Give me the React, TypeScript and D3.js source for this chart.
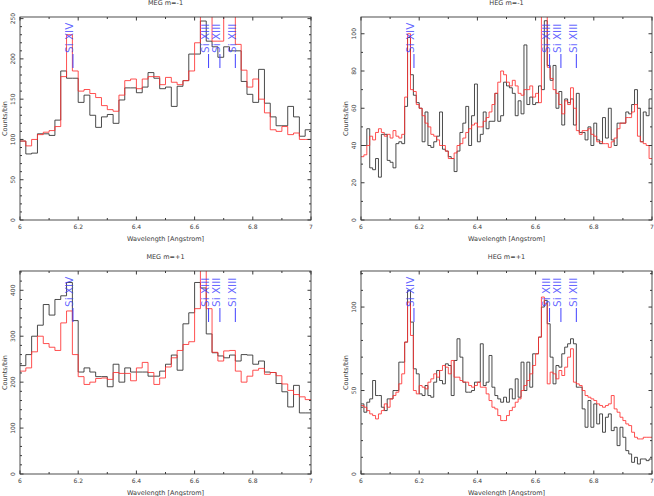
import React, { useEffect, useRef } from "react";
import * as d3 from "d3";

// wavelength grid of the spectra
const waveMin = 6.0;
const waveMax = 7.0;
const megBinWidth = 0.02;
const hegBinWidth = 0.01;
const xTickValues = [6, 6.2, 6.4, 6.6, 6.8, 7];
const xMinorTicks = [6.1, 6.3, 6.5, 6.7, 6.9];

// counts per bin (black = data, red = model)
const megMinus1Data = [
  98, 82, 83, 107, 107, 105, 124, 185, 176, 176,
  146, 155, 130, 115, 128, 131, 120, 149, 164, 164,
  158, 165, 183, 176, 163, 165, 141, 166, 173, 206,
  206, 247, 222, 215, 202, 215, 210, 210, 172, 156,
  146, 187, 145, 128, 117, 117, 141, 128, 104, 112,
];
const megMinus1Model = [
  98, 92, 100, 106, 109, 111, 116, 178, 230, 185,
  160, 162, 157, 152, 142, 137, 135, 155, 173, 175,
  163, 175, 178, 178, 168, 177, 171, 168, 173, 185,
  220, 290, 290, 222, 222, 280, 280, 218, 186, 165,
  175, 150, 133, 112, 110, 116, 106, 108, 100, 100,
];
const hegMinus1Data = [
  40, 40, 49, 28, 27, 33, 23, 46, 46, 32,
  31, 28, 41, 42, 41, 61, 98, 78, 67, 63,
  60, 42, 58, 40, 39, 42, 45, 58, 38, 37,
  34, 33, 26, 37, 47, 52, 61, 40, 56, 73,
  42, 46, 58, 49, 53, 53, 68, 53, 56, 74,
  72, 71, 68, 56, 64, 57, 94, 62, 66, 62,
  63, 72, 70, 107, 83, 75, 83, 60, 69, 51,
  65, 63, 65, 51, 68, 47, 47, 43, 50, 40,
  52, 43, 41, 55, 44, 60, 43, 40, 52, 52,
  52, 58, 57, 62, 70, 60, 42, 58, 56, 65,
];
const hegMinus1Model = [
  34, 35, 40, 45, 43, 47, 49, 47, 45, 46,
  44, 48, 45, 44, 46, 66, 100, 70, 69, 62,
  60, 56, 52, 50, 46, 45, 43, 40, 40, 37,
  33, 33, 36, 40, 41, 44, 47, 49, 51, 52,
  50, 50, 53, 55, 58, 62, 68, 74, 80, 78,
  74, 72, 75, 72, 68, 67, 70, 70, 72, 66,
  68, 63, 125, 125, 82, 76, 70, 68, 62, 57,
  64, 62, 71, 60, 48, 46, 48, 48, 49, 46,
  45, 42, 42, 41, 41, 39, 42, 44, 49, 52,
  52, 55, 55, 58, 62, 45, 42, 41, 40, 33,
];
const megPlus1Data = [
  236, 260, 300, 324, 369, 346, 380, 388, 417, 334,
  222, 231, 222, 212, 212, 190, 239, 200, 231, 222,
  222, 222, 213, 213, 224, 239, 259, 226, 327, 351,
  417, 405, 305, 264, 257, 253, 259, 246, 260, 259,
  239, 246, 222, 221, 197, 179, 146, 193, 133, 133,
];
const megPlus1Model = [
  224, 231, 266, 300, 284, 276, 269, 329, 355, 260,
  212, 195, 200, 208, 209, 206, 221, 219, 219, 203,
  231, 243, 221, 195, 209, 233, 253, 269, 282, 288,
  360, 480, 360, 265, 246, 268, 269, 224, 200, 213,
  226, 230, 217, 221, 214, 196, 182, 173, 168, 162,
];
const hegPlus1Data = [
  42, 37, 43, 45, 56, 47, 47, 40, 38, 45,
  45, 50, 50, 67, 67, 79, 110, 91, 63, 60,
  48, 47, 53, 47, 46, 55, 62, 56, 54, 66,
  65, 47, 68, 81, 70, 55, 49, 49, 50, 55,
  55, 78, 53, 55, 71, 52, 47, 45, 43, 46,
  43, 51, 45, 57, 46, 67, 50, 67, 52, 72,
  72, 82, 100, 104, 90, 70, 54, 65, 64, 72,
  76, 78, 81, 78, 52, 52, 39, 28, 44, 28,
  42, 30, 36, 25, 34, 36, 26, 28, 17, 28,
  22, 14, 12, 7, 10, 6, 9, 9, 8, 9,
];
const hegPlus1Model = [
  41, 40, 38, 36, 35, 33, 36, 38, 42, 40,
  45, 47, 49, 54, 60, 79, 103, 83, 50, 48,
  53, 52, 51, 55, 57, 60, 58, 62, 65, 64,
  60, 68, 58, 58, 56, 55, 55, 53, 52, 53,
  55, 52, 52, 48, 44, 40, 39, 35, 32, 32,
  35, 38, 40, 43, 45, 50, 53, 56, 60, 65,
  72, 82, 106, 102, 54, 61, 60, 57, 62, 59,
  64, 70, 75, 55, 54, 53, 50, 47, 46, 45,
  44, 42, 41, 40, 41, 42, 47, 39, 37, 34,
  32, 30, 29, 25, 22, 21, 21, 22, 22, 22,
];

// line identifications
const lineNames = ["Si XIV", "Si XIII", "Si XIII", "Si XIII"];
const lineWavelengths = [6.182, 6.648, 6.687, 6.74];

const panelTitles = ["MEG m=-1", "HEG m=-1", "MEG m=+1", "HEG m=+1"];
const panelYMax = [252, 109, 442, 121.6];
const panelYMajor = [50, 20, 100, 50];
const panelYMinor = [10, 10, 20, 10];

const FONT = "DejaVu Sans, sans-serif";
const AXIS_COLOR = "#3a3a3a";

export default function App() {
  const svgRef = useRef<SVGSVGElement>(null);

  useEffect(() => {
    const svg = d3.select(svgRef.current);
    svg.selectAll("*").remove();

    const width = 291;
    const height = 203;
    const panels = [
      { data: megMinus1Data, model: megMinus1Model, bin: megBinWidth, left: 20, top: 17 },
      { data: hegMinus1Data, model: hegMinus1Model, bin: hegBinWidth, left: 361, top: 17 },
      { data: megPlus1Data, model: megPlus1Model, bin: megBinWidth, left: 20, top: 271 },
      { data: hegPlus1Data, model: hegPlus1Model, bin: hegBinWidth, left: 361, top: 271 },
    ];

    panels.forEach((p, k) => {
      const g = svg.append("g").attr("transform", `translate(${p.left},${p.top})`);
      const x = d3.scaleLinear().domain([waveMin, waveMax]).range([0, width]);
      const y = d3.scaleLinear().domain([0, panelYMax[k]]).range([height, 0]);

      const clipId = `clip-${k}`;
      g.append("clipPath").attr("id", clipId)
        .append("rect").attr("width", width).attr("height", height);

      // histograms as steps
      const stepLine = d3.line<[number, number]>()
        .x(d => x(d[0]))
        .y(d => y(d[1]))
        .curve(d3.curveStepAfter);
      const toSteps = (vals: number[]): [number, number][] => {
        const pts = vals.map((v, i) => [waveMin + i * p.bin, v] as [number, number]);
        pts.push([waveMax, vals[vals.length - 1]]);
        return pts;
      };

      const plot = g.append("g").attr("clip-path", `url(#${clipId})`);
      plot.append("path")
        .attr("d", stepLine(toSteps(p.data)))
        .attr("fill", "none")
        .attr("stroke", "#2a2a2a")
        .attr("stroke-width", 0.85);
      plot.append("path")
        .attr("d", stepLine(toSteps(p.model)))
        .attr("fill", "none")
        .attr("stroke", "#ff3030")
        .attr("stroke-width", 0.85);

      // frame
      g.append("rect")
        .attr("width", width).attr("height", height)
        .attr("fill", "none").attr("stroke", AXIS_COLOR).attr("stroke-width", 0.9);

      // x ticks, bottom and top, inward
      const xt = [
        ...xTickValues.map(v => ({ v, len: 3.5 })),
        ...xMinorTicks.map(v => ({ v, len: 2 })),
      ];
      g.selectAll(".xtick-b").data(xt).join("line")
        .attr("class", "xtick-b")
        .attr("x1", d => x(d.v)).attr("x2", d => x(d.v))
        .attr("y1", height).attr("y2", d => height - d.len)
        .attr("stroke", AXIS_COLOR);
      g.selectAll(".xtick-t").data(xt).join("line")
        .attr("class", "xtick-t")
        .attr("x1", d => x(d.v)).attr("x2", d => x(d.v))
        .attr("y1", 0).attr("y2", d => d.len)
        .attr("stroke", AXIS_COLOR);

      g.selectAll(".xlabel").data(xTickValues).join("text")
        .attr("class", "xlabel")
        .attr("x", d => x(d)).attr("y", height + 8.5)
        .attr("text-anchor", "middle")
        .attr("font-family", FONT).attr("font-size", 6)
        .attr("fill", AXIS_COLOR)
        .text(d => String(d));

      // y ticks, left and right
      const yMaj = panelYMajor[k];
      const yt = d3.range(0, panelYMax[k], panelYMinor[k]).map(v => ({
        v,
        len: Math.abs(v % yMaj) < 1e-6 ? 3.5 : 2,
      }));
      g.selectAll(".ytick-l").data(yt).join("line")
        .attr("class", "ytick-l")
        .attr("x1", 0).attr("x2", d => d.len)
        .attr("y1", d => y(d.v)).attr("y2", d => y(d.v))
        .attr("stroke", AXIS_COLOR);
      g.selectAll(".ytick-r").data(yt).join("line")
        .attr("class", "ytick-r")
        .attr("x1", width).attr("x2", d => width - d.len)
        .attr("y1", d => y(d.v)).attr("y2", d => y(d.v))
        .attr("stroke", AXIS_COLOR);

      const yLabels = d3.range(0, panelYMax[k] + 1e-6, yMaj);
      g.selectAll(".ylabel").data(yLabels).join("text")
        .attr("class", "ylabel")
        .attr("transform", d => `translate(-5,${y(d)}) rotate(-90)`)
        .attr("text-anchor", "middle")
        .attr("font-family", FONT).attr("font-size", 6)
        .attr("fill", AXIS_COLOR)
        .text(d => String(d));

      // titles
      g.append("text")
        .attr("x", width / 2).attr("y", -12)
        .attr("text-anchor", "middle")
        .attr("font-family", FONT).attr("font-size", 6.5)
        .attr("fill", AXIS_COLOR)
        .text(panelTitles[k]);
      g.append("text")
        .attr("x", width / 2).attr("y", height + 20.5)
        .attr("text-anchor", "middle")
        .attr("font-family", FONT).attr("font-size", 6.5)
        .attr("fill", AXIS_COLOR)
        .text("Wavelength  [Angstrom]");
      g.append("text")
        .attr("transform", `translate(-13.5,${height / 2}) rotate(-90)`)
        .attr("text-anchor", "middle")
        .attr("font-family", FONT).attr("font-size", 6.5)
        .attr("fill", AXIS_COLOR)
        .text("Counts/bin");

      // line ids
      const ids = lineNames.map((name, i) => ({ name, w: lineWavelengths[i] }));
      g.selectAll(".lid-tick").data(ids).join("line")
        .attr("class", "lid-tick")
        .attr("x1", d => x(d.w)).attr("x2", d => x(d.w))
        .attr("y1", 37).attr("y2", 51)
        .attr("stroke", "#4040ff").attr("stroke-width", 1);
      g.selectAll(".lid-text").data(ids).join("text")
        .attr("class", "lid-text")
        .attr("transform", d => `translate(${x(d.w) + 0.5},36) rotate(-90)`)
        .attr("font-family", FONT).attr("font-size", 10.5)
        .attr("fill", "#4040ff").attr("fill-opacity", 0.8)
        .text(d => d.name);
    });
  }, []);

  return (
    <svg
      ref={svgRef}
      width={654}
      height={496}
      style={{ position: "absolute", left: 0, top: 0, background: "#fff" }}
    />
  );
}
